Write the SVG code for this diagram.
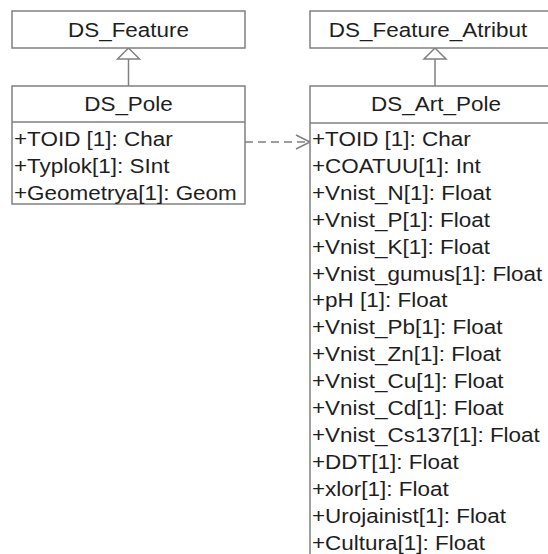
<svg xmlns="http://www.w3.org/2000/svg" width="548" height="554" viewBox="0 0 548 554">
<style>
.box{fill:#fff;stroke:#808080;stroke-width:1.5}
.ln{fill:none;stroke:#808080;stroke-width:1.5}
text{font-family:"Liberation Sans",Arial,sans-serif;font-size:21px;fill:#1e1e1e}
.t{text-anchor:middle}
</style>
<rect width="548" height="554" fill="#fff"/>
<g id="connectors">
<line class="ln" x1="128.5" y1="59" x2="128.5" y2="86"/>
<polygon class="ln" points="128.5,48 117.5,59 139.5,59" fill="#fff"/>
<line class="ln" x1="435" y1="59" x2="435" y2="86"/>
<polygon class="ln" points="435,48 424,59 446,59" fill="#fff"/>
<line class="ln" x1="245" y1="142" x2="309" y2="142" stroke-dasharray="8,5"/>
<polyline class="ln" points="296,135 310,142 296,149"/>
</g>
<g id="DS_Feature">
<rect class="box" x="12" y="11" width="233" height="37"/>
<text class="t" transform="translate(128.5 37) scale(1.07 1)">DS_Feature</text>
</g>
<g id="DS_Feature_Atribut">
<rect class="box" x="310" y="11" width="250" height="37"/>
<text class="t" transform="translate(428 37) scale(1.07 1)">DS_Feature_Atribut</text>
</g>
<g id="DS_Pole">
<rect class="box" x="12" y="86" width="233" height="118"/>
<line class="ln" x1="12" y1="122" x2="245" y2="122"/>
<text class="t" transform="translate(128.5 111) scale(1.07 1)">DS_Pole</text>
<text transform="translate(14 146) scale(1.07 1)">+TOID [1]: Char</text>
<text transform="translate(14 173) scale(1.07 1)">+Typlok[1]: SInt</text>
<text transform="translate(14 199.5) scale(1.07 1)">+Geometrya[1]: Geom</text>
</g>
<g id="DS_Art_Pole">
<rect class="box" x="310" y="86" width="250" height="480"/>
<line class="ln" x1="310" y1="123" x2="560" y2="123"/>
<text class="t" transform="translate(436 111) scale(1.07 1)">DS_Art_Pole</text>
<text transform="translate(312 146) scale(1.07 1)">+TOID [1]: Char</text>
<text transform="translate(312 172.9) scale(1.07 1)">+COATUU[1]: Int</text>
<text transform="translate(312 199.8) scale(1.07 1)">+Vnist_N[1]: Float</text>
<text transform="translate(312 226.7) scale(1.07 1)">+Vnist_P[1]: Float</text>
<text transform="translate(312 253.6) scale(1.07 1)">+Vnist_K[1]: Float</text>
<text transform="translate(312 280.5) scale(1.07 1)">+Vnist_gumus[1]: Float</text>
<text transform="translate(312 307.4) scale(1.07 1)">+pH [1]: Float</text>
<text transform="translate(312 334.3) scale(1.07 1)">+Vnist_Pb[1]: Float</text>
<text transform="translate(312 361.2) scale(1.07 1)">+Vnist_Zn[1]: Float</text>
<text transform="translate(312 388.1) scale(1.07 1)">+Vnist_Cu[1]: Float</text>
<text transform="translate(312 415) scale(1.07 1)">+Vnist_Cd[1]: Float</text>
<text transform="translate(312 441.9) scale(1.07 1)">+Vnist_Cs137[1]: Float</text>
<text transform="translate(312 468.8) scale(1.07 1)">+DDT[1]: Float</text>
<text transform="translate(312 495.7) scale(1.07 1)">+xlor[1]: Float</text>
<text transform="translate(312 522.6) scale(1.07 1)">+Urojainist[1]: Float</text>
<text transform="translate(312 549.5) scale(1.07 1)">+Cultura[1]: Float</text>
</g>
</svg>
